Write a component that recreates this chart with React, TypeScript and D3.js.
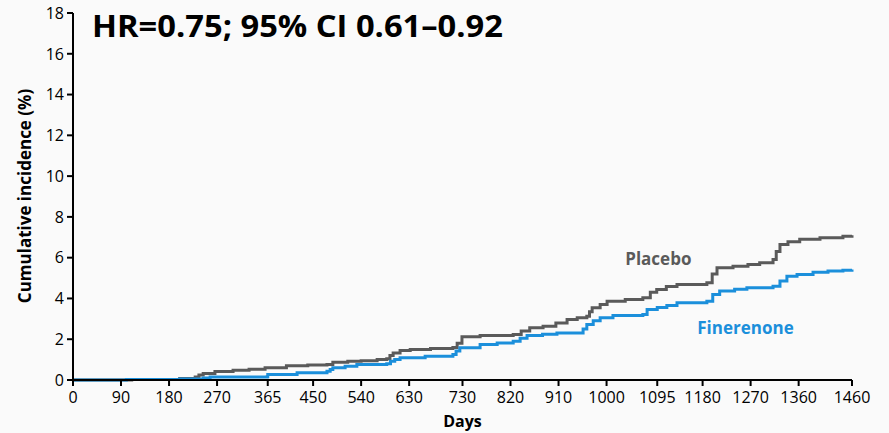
import * as d3 from "d3";

const WIDTH = 889;
const HEIGHT = 433;
const MARGIN = { top: 13, right: 37, bottom: 53, left: 73 };
const FONT = "'Open Sans', sans-serif";

const xTicks = [0, 90, 180, 270, 365, 450, 540, 630, 730, 820, 910, 1000, 1095, 1180, 1270, 1360, 1460];
const yTicks = [0, 2, 4, 6, 8, 10, 12, 14, 16, 18];

// step points: [day, cumulative incidence %]
const placebo: [number, number][] = [
  [0, 0], [110, 0.03], [200, 0.07], [229, 0.15], [236, 0.25], [244, 0.32], [266, 0.42],
  [300, 0.48], [330, 0.53], [360, 0.6], [400, 0.7], [440, 0.73], [476, 0.76], [487, 0.87],
  [515, 0.92], [540, 0.95], [570, 1.0], [588, 1.04], [594, 1.2], [600, 1.33], [613, 1.45],
  [632, 1.5], [670, 1.55], [712, 1.6], [720, 1.8], [729, 2.12], [763, 2.18], [825, 2.23],
  [840, 2.4], [856, 2.56], [881, 2.64], [905, 2.8], [926, 2.97], [945, 3.05], [963, 3.13],
  [968, 3.35], [973, 3.54], [988, 3.7], [1001, 3.86], [1035, 3.95], [1068, 4.03], [1082, 4.3],
  [1094, 4.44], [1112, 4.58], [1132, 4.68], [1188, 4.77], [1198, 5.2], [1207, 5.5], [1237, 5.58],
  [1265, 5.66], [1287, 5.75], [1312, 5.91], [1318, 6.3], [1325, 6.65], [1340, 6.78], [1362, 6.9],
  [1400, 6.98], [1443, 7.05], [1460, 7.1],
];

const finerenone: [number, number][] = [
  [0, 0], [100, 0.02], [200, 0.05], [244, 0.1], [257, 0.15], [364, 0.16], [365, 0.27],
  [420, 0.35], [476, 0.43], [482, 0.52], [487, 0.6], [510, 0.68], [532, 0.76], [588, 0.8],
  [595, 0.92], [603, 1.0], [613, 1.09], [660, 1.17], [712, 1.25], [718, 1.42], [725, 1.58],
  [763, 1.74], [795, 1.82], [825, 1.9], [838, 2.05], [851, 2.18], [880, 2.25], [907, 2.31],
  [950, 2.31], [956, 2.5], [963, 2.72], [975, 2.9], [988, 3.05], [1012, 3.16], [1068, 3.21],
  [1076, 3.46], [1095, 3.55], [1113, 3.65], [1132, 3.79], [1188, 3.86], [1199, 4.19],
  [1212, 4.36], [1240, 4.45], [1263, 4.52], [1312, 4.6], [1325, 4.85], [1338, 5.09],
  [1357, 5.17], [1387, 5.29], [1415, 5.34], [1443, 5.38], [1460, 5.42],
];

const series = [
  { name: "Placebo", color: "#5a5a5a", data: placebo, label: { x: 1035, y: 5.65 } },
  { name: "Finerenone", color: "#1b8fdb", data: finerenone, label: { x: 1170, y: 2.25 } },
];

export default function App() {
  const x = d3.scaleLinear().domain([0, 1460]).range([MARGIN.left, WIDTH - MARGIN.right]);
  const y = d3.scaleLinear().domain([0, 18]).range([HEIGHT - MARGIN.bottom, MARGIN.top]);
  const line = d3
    .line<[number, number]>()
    .x((d) => x(d[0]))
    .y((d) => y(d[1]))
    .curve(d3.curveStepAfter);

  const x0 = x(0);
  const y0 = y(0);

  return (
    <svg
      width={WIDTH}
      height={HEIGHT}
      style={{ position: "absolute", left: 0, top: 0, background: "#fafafa", fontFamily: FONT }}
    >
      <rect width={WIDTH} height={HEIGHT} fill="#fafafa" />

      {series.map((s) => (
        <path key={s.name} d={line(s.data) || ""} fill="none" stroke={s.color} strokeWidth={3} />
      ))}

      {/* axes */}
      <line x1={x0} x2={x0} y1={y(18)} y2={y0} stroke="#000" strokeWidth={2} />
      <line x1={x0} x2={x(1460)} y1={y0} y2={y0} stroke="#000" strokeWidth={2} />

      {yTicks.map((t) => (
        <g key={`y-${t}`}>
          <line x1={x0 - 6} x2={x0} y1={y(t)} y2={y(t)} stroke="#000" strokeWidth={2} />
          <text x={x0 - 9} y={y(t)} dy="0.36em" textAnchor="end" fontSize={16} fill="#000">
            {t}
          </text>
        </g>
      ))}

      {xTicks.map((t) => (
        <g key={`x-${t}`}>
          <line x1={x(t)} x2={x(t)} y1={y0} y2={y0 + 6} stroke="#000" strokeWidth={2} />
          <text x={x(t)} y={y0 + 23} textAnchor="middle" fontSize={16} fill="#000">
            {t}
          </text>
        </g>
      ))}

      <text x={(x0 + x(1460)) / 2} y={HEIGHT - 6} textAnchor="middle" fontSize={16} fontWeight="bold">
        Days
      </text>
      <text
        transform={`translate(31 196) rotate(-90)`}
        textAnchor="middle"
        fontSize={17}
        fontWeight="bold"
      >
        Cumulative incidence (%)
      </text>

      <text x={92} y={37} fontSize={31} fontWeight="bold" fill="#000" textLength={411} lengthAdjust="spacingAndGlyphs">
        HR=0.75; 95% CI 0.61–0.92
      </text>

      {series.map((s) => (
        <text key={`l-${s.name}`} x={x(s.label.x)} y={y(s.label.y)} fontSize={17} fontWeight="bold" fill={s.color}>
          {s.name}
        </text>
      ))}
    </svg>
  );
}
